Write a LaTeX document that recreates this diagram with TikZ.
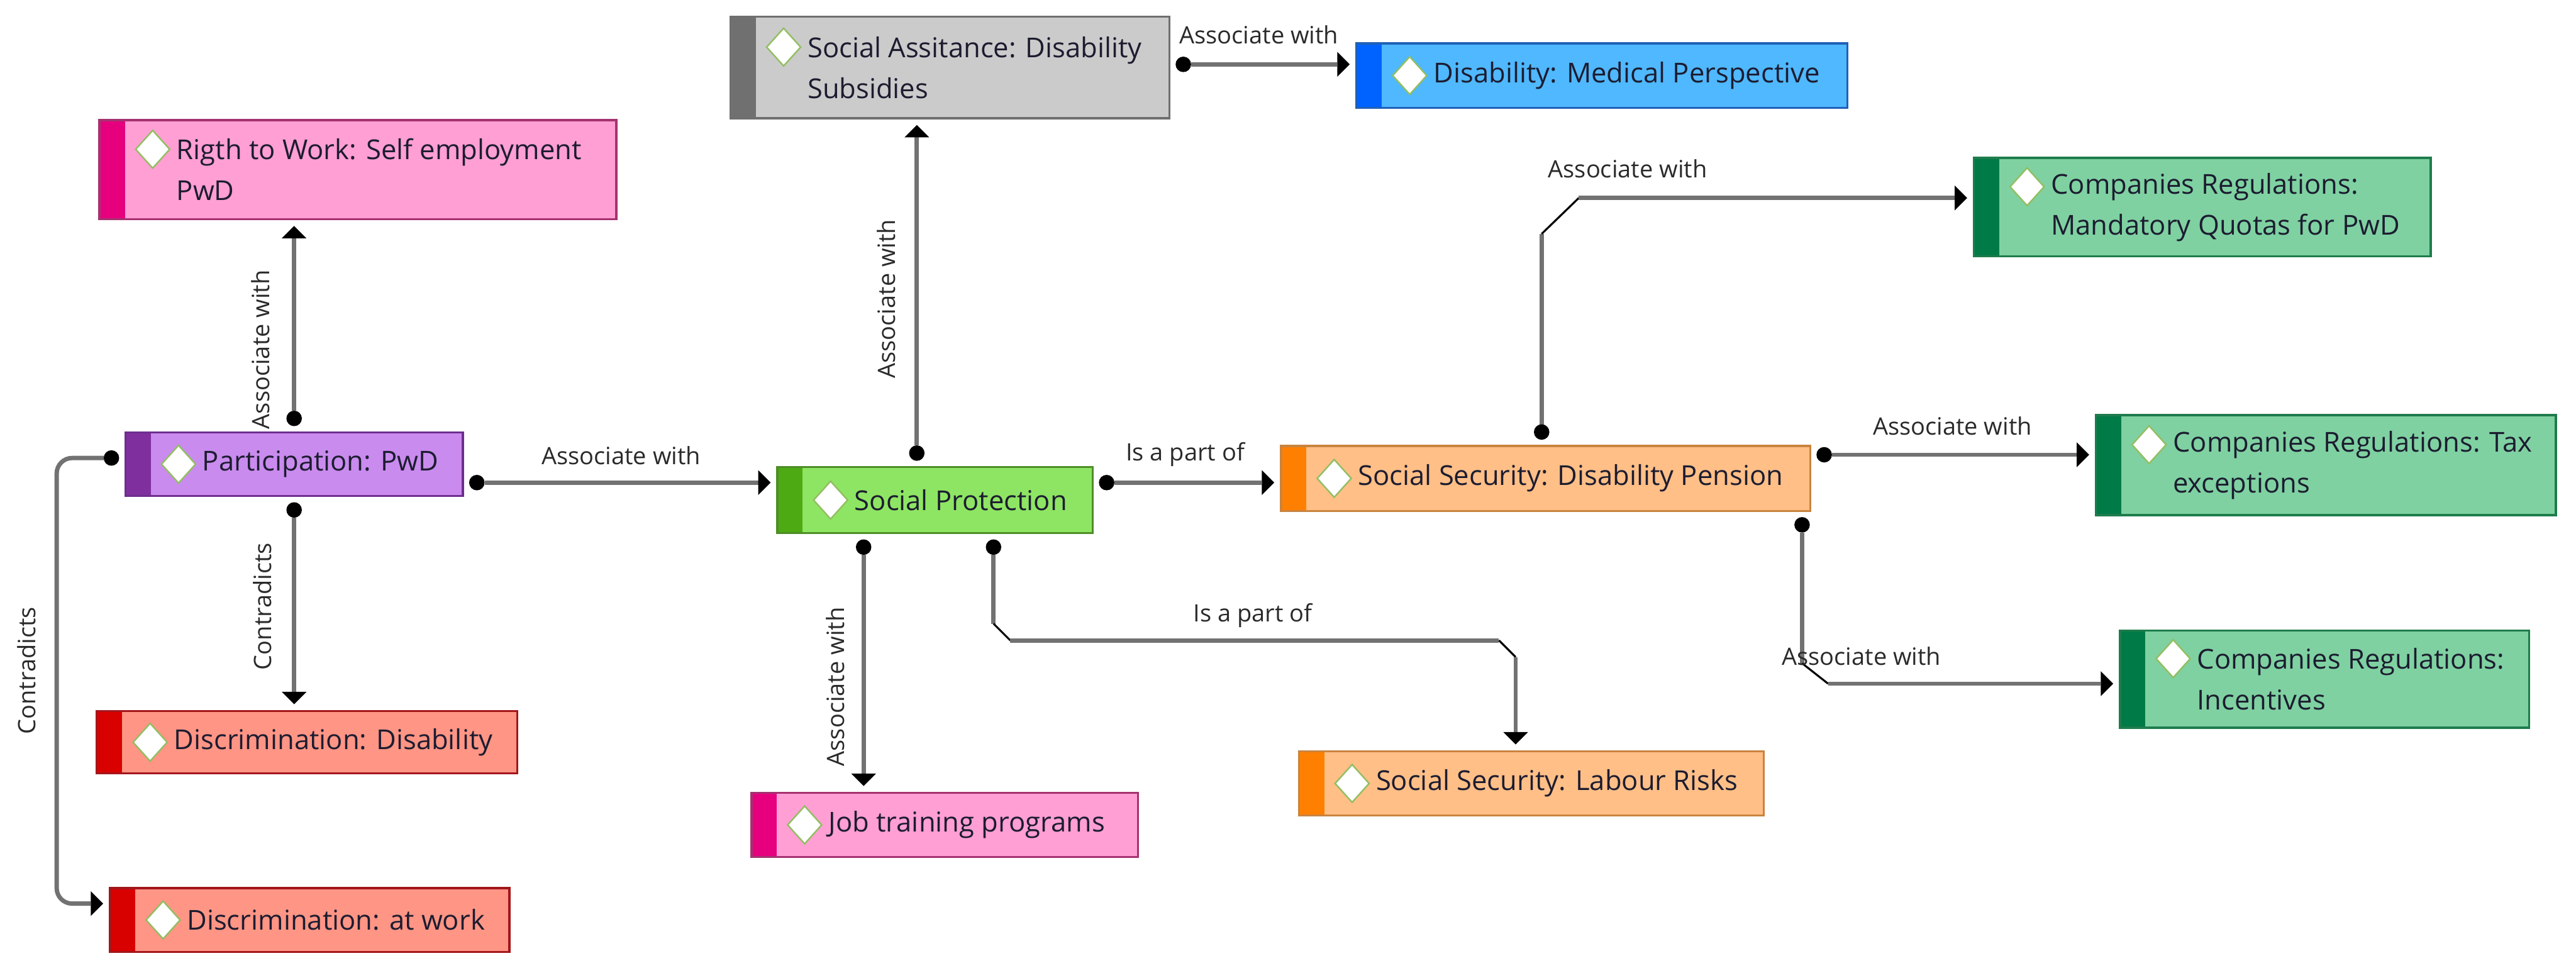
\documentclass[tikz,border=0pt]{standalone}
\usepackage{fontspec}
\setmainfont{Open Sans}
\usetikzlibrary{arrows.meta,shapes.geometric}

\definecolor{pinkfill}{HTML}{FF9FD4}\definecolor{pinkbar}{HTML}{E6007E}\definecolor{pinkline}{HTML}{A53270}
\definecolor{purplefill}{HTML}{C98BEE}\definecolor{purplebar}{HTML}{7F2F9E}\definecolor{purpleline}{HTML}{6E2E8E}
\definecolor{redfill}{HTML}{FF9585}\definecolor{redbar}{HTML}{D90000}\definecolor{redline}{HTML}{A3161B}
\definecolor{grayfill}{HTML}{CBCBCB}\definecolor{graybar}{HTML}{707070}\definecolor{grayline}{HTML}{6F6F6F}
\definecolor{bluefill}{HTML}{4FB8FF}\definecolor{bluebar}{HTML}{0062FF}\definecolor{blueline}{HTML}{2060B8}
\definecolor{greenfill}{HTML}{8EE563}\definecolor{greenbar}{HTML}{4DAA12}\definecolor{greenline}{HTML}{4E8D28}
\definecolor{orangefill}{HTML}{FFBF87}\definecolor{orangebar}{HTML}{FF7F00}\definecolor{orangeline}{HTML}{C9843F}
\definecolor{tealfill}{HTML}{7FD1A1}\definecolor{tealbar}{HTML}{007A47}\definecolor{tealline}{HTML}{1F7C4C}
\definecolor{linegray}{HTML}{727272}
\definecolor{diamondline}{HTML}{93BE63}
\definecolor{textdark}{HTML}{1C1C30}
\definecolor{labeltext}{HTML}{2A2A2A}

\tikzset{
  conceptbox/.style={rectangle, inner sep=0pt, outer sep=0pt, line width=1pt},
  gemdiamond/.style={diamond, draw=diamondline, fill=white, line width=0.7pt, inner sep=0pt, minimum width=0.56cm, minimum height=0.62cm},
  concepttext/.style={inner sep=0pt, align=left, font=\fontsize{12.6}{18.8}\selectfont, text=textdark},
  elabel/.style={inner sep=0pt, font=\fontsize{11}{13}\selectfont, text=labeltext},
  conn/.style={draw=linegray, line width=2pt},
  dotstart/.style={shorten <=0.1cm, {Circle[length=0.25cm, line width=0pt, color=black]}-},
  arrowend/.style={shorten >=0.11cm, -{Triangle[width=0.40cm, length=0.2cm, line width=0pt, color=black]}},
  dotarrow/.style={shorten <=0.1cm, shorten >=0.11cm, {Circle[length=0.25cm, line width=0pt, color=black]}-{Triangle[width=0.40cm, length=0.2cm, line width=0pt, color=black]}},
  chamfer/.style={draw=black, line width=0.9pt}
}

% #1 name, #2 x1, #3 y1, #4 x2, #5 y2 (pixels), #6 colour family, #7 diamond y offset (px), #8 text
\newcommand{\cbox}[8]{%
  \node[conceptbox, fill=#6fill, draw=#6line, minimum width={(#4-#2)*0.01cm}, minimum height={(#5-#3)*0.01cm}] (#1) at ({(#2+#4)*0.005},{-(#3+#5)*0.005}) {};
  \fill[#6bar] (#1.north west) rectangle ([xshift=0.41cm]#1.south west);
  \draw[#6line, line width=1pt] (#1.north west) rectangle (#1.south east);
  \node[gemdiamond] (#1-d) at ([xshift=0.86cm, yshift=#7*0.01cm]#1.west) {};
  \node[concepttext, anchor=west] (#1-t) at ([xshift=1.24cm]#1.west) {#8};
}

\begin{document}
\begin{tikzpicture}
\useasboundingbox (0,0) rectangle (41.64,-15.64);

% concept boxes
\cbox{rtw}{160}{194}{996}{354}{pink}{33}{Rigth to Work: Self employment\\PwD}
\cbox{pwd}{202}{698}{748}{801}{purple}{0}{Participation: PwD}
\cbox{dd}{156}{1148}{836}{1249}{red}{0}{Discrimination: Disability}
\cbox{daw}{177}{1434}{823}{1537}{red}{0}{Discrimination: at work}
\cbox{sa}{1179}{27}{1889}{191}{gray}{33}{Social Assitance: Disability\\Subsidies}
\cbox{dmp}{2190}{70}{2984}{174}{blue}{0}{Disability: Medical Perspective}
\cbox{sp}{1255}{754}{1765}{861}{green}{0}{Social Protection}
\cbox{ssdp}{2068}{720}{2924}{825}{orange}{0}{Social Security: Disability Pension}
\cbox{crq}{3187}{255}{3926}{414}{teal}{33}{Companies Regulations:\\Mandatory Quotas for PwD}
\cbox{crt}{3384}{670}{4128}{832}{teal}{33}{Companies Regulations: Tax\\exceptions}
\cbox{cri}{3423}{1018}{4085}{1175}{teal}{33}{Companies Regulations:\\Incentives}
\cbox{jtp}{1213}{1280}{1838}{1384}{pink}{0}{Job training programs}
\cbox{sslr}{2097}{1213}{2849}{1317}{orange}{0}{Social Security: Labour Risks}

% helper coordinates
\coordinate (ymain) at (0,-7.80);
\coordinate (xsa) at (14.82,0);
\coordinate (ysa) at (0,-1.04);
\coordinate (xjt) at (13.96,0);
\coordinate (ytax) at (0,-7.35);
\coordinate (c9a) at (16.06,-10.08);
\coordinate (c9b) at (16.33,-10.35);
\coordinate (c9c) at (24.23,-10.35);
\coordinate (c9d) at (24.50,-10.62);
\coordinate (c10a) at (24.92,-3.78);
\coordinate (c10b) at (25.52,-3.20);
\coordinate (c12a) at (29.13,-10.72);
\coordinate (c12b) at (29.55,-11.05);

% connectors
\draw[conn, dotarrow] (pwd.north) -- (pwd.north |- rtw.south);
\draw[conn, dotarrow] (pwd.south) -- (pwd.south |- dd.north);
\draw[conn, dotarrow, rounded corners=0.25cm] ([yshift=0.1cm]pwd.west) -- ++(-1.11,0) |- ([yshift=0.265cm]daw.west);
\draw[conn, dotarrow] (pwd.east |- ymain) -- (sp.west |- ymain);
\draw[conn, dotarrow] (sp.north -| xsa) -- (sa.south -| xsa);
\draw[conn, dotarrow] (sa.east |- ysa) -- (dmp.west |- ysa);
\draw[conn, dotarrow] (sp.east |- ymain) -- (ssdp.west |- ymain);
\draw[conn, dotarrow] (sp.south -| xjt) -- (jtp.north -| xjt);

\draw[conn, dotstart] (sp.south -| c9a) -- (c9a);
\draw[chamfer] (c9a) -- (c9b);
\draw[conn] (c9b) -- (c9c);
\draw[chamfer] (c9c) -- (c9d);
\draw[conn, arrowend] (c9d) -- (sslr.north -| c9d);

\draw[conn, dotstart] (ssdp.north -| c10a) -- (c10a);
\draw[chamfer] (c10a) -- (c10b);
\draw[conn, arrowend] (c10b) -- (crq.west |- c10b);

\draw[conn, dotarrow] (ssdp.east |- ytax) -- (crt.west |- ytax);

\draw[conn, dotstart] (ssdp.south -| c12a) -- (c12a);
\draw[chamfer] (c12a) -- (c12b);
\draw[conn, arrowend] (c12b) -- (cri.west |- c12b);

% connector labels
\node[elabel, rotate=90] (l1) at (4.21,-5.65) {Associate with};
\node[elabel, rotate=90] (l2) at (4.24,-9.80) {Contradicts};
\node[elabel, rotate=90] (l3) at (0.43,-10.84) {Contradicts};
\node[elabel] (l4) at (10.04,-7.36) {Associate with};
\node[elabel, rotate=90] (l5) at (14.33,-4.83) {Associate with};
\node[elabel] (l6) at (20.35,-0.56) {Associate with};
\node[elabel] (l7) at (19.16,-7.35) {Is a part of};
\node[elabel, rotate=90] (l8) at (13.50,-11.10) {Associate with};
\node[elabel] (l9) at (20.25,-9.95) {Is a part of};
\node[elabel] (l10) at (26.31,-2.73) {Associate with};
\node[elabel] (l11) at (31.56,-6.88) {Associate with};
\node[elabel] (l12) at (30.09,-10.61) {Associate with};
\end{tikzpicture}
\end{document}
